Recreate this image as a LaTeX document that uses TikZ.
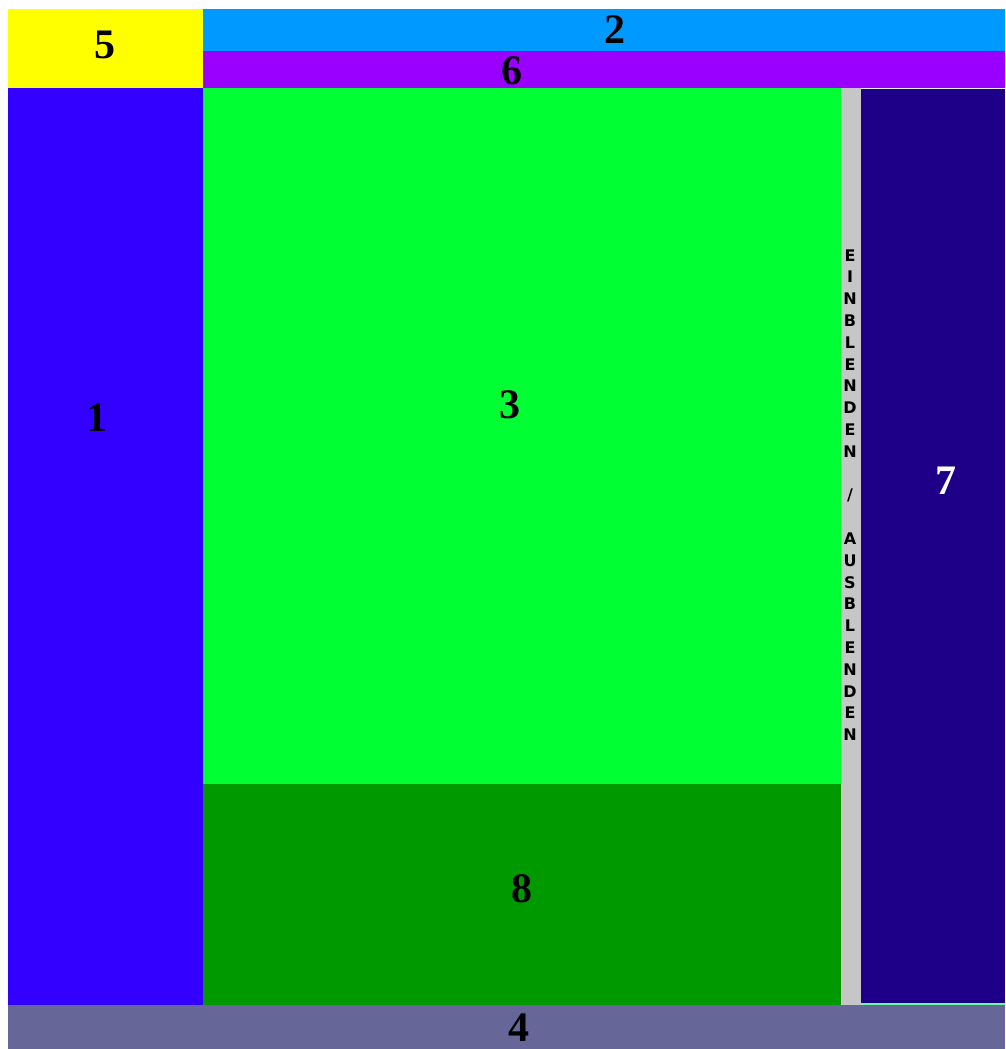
\documentclass[tikz,border=0pt]{standalone}
\usepackage{fontspec}
\setmainfont{Liberation Serif}
\newfontfamily\barfont{DejaVu Sans}
\definecolor{menuyellow}{HTML}{FFFF00}
\definecolor{headblue}{HTML}{0099FF}
\definecolor{navviolet}{HTML}{9900FF}
\definecolor{sideblue}{HTML}{3300FF}
\definecolor{maingreen}{HTML}{00FF33}
\definecolor{darkgreen}{HTML}{009900}
\definecolor{togglegray}{HTML}{C6C6C6}
\definecolor{infonavy}{HTML}{1E0088}
\definecolor{footgray}{HTML}{666699}
\definecolor{seamgreen}{HTML}{66FF99}

\begin{document}
\begin{tikzpicture}[x=1pt, y=-1pt,
    num/.style   = {font=\fontsize{42}{42}\selectfont\bfseries, inner sep=0pt},
    barch/.style = {font=\barfont\bfseries\fontsize{16}{16}\selectfont,
                    inner sep=0pt, text height=12pt, text depth=0pt}
  ]
  \useasboundingbox (0,0) rectangle (1005,1049);

  % areas
  \fill[menuyellow] (8,9)     rectangle (203,88);
  \fill[headblue]   (203,9)   rectangle (1005,51);
  \fill[navviolet]  (203,51)  rectangle (1005,88);
  \fill[sideblue]   (8,88)    rectangle (203,1005);
  \fill[maingreen]  (203,88)  rectangle (841,784);
  \fill[darkgreen]  (203,784) rectangle (841,1005);
  \fill[togglegray] (841,88)  rectangle (861,1005);
  \fill[infonavy]   (861,88)  rectangle (1005,1003);
  \fill[seamgreen]  (861,1003) rectangle (1005,1005);
  \fill[footgray]   (8,1005)  rectangle (1005,1049);
  \draw[white!85!gray, thin] (861,88.5) -- (1005,88.5);

  % labels
  \node[num] (lbl5) at (105,45)  {5};
  \node[num] (lbl2) at (615,30)  {2};
  \node[num] (lbl6) at (512,71)  {6};
  \node[num] (lbl1) at (97,418)  {1};
  \node[num] (lbl3) at (510,405) {3};
  \node[num, white] (lbl7) at (946,481) {7};
  \node[num] (lbl8) at (522,889) {8};
  \node[num] (lbl4) at (519,1028) {4};

  % toggle bar text
  \foreach \ch [count=\i] in {E,I,N,B,L,E,N,D,E,N,{},/,{},A,U,S,B,L,E,N,D,E,N}
    \node[barch] (tgl\i) at (850,{255+21.8*(\i-1)}) {\ch};
\end{tikzpicture}
\end{document}
